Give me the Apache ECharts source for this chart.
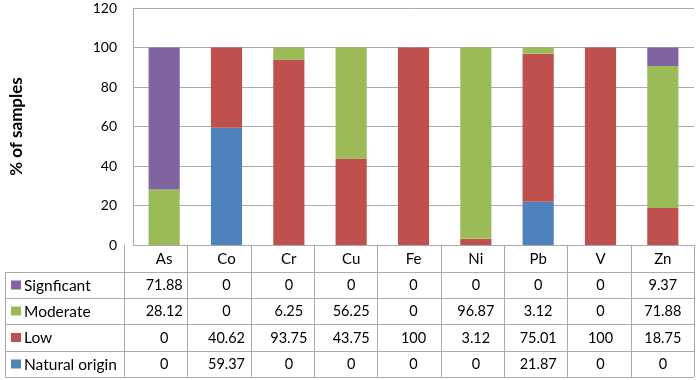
<!DOCTYPE html>
<html>
<head>
<meta charset="utf-8">
<script src="https://cdn.jsdelivr.net/npm/echarts@6/dist/echarts.min.js"></script>
<style>
  html, body { margin: 0; padding: 0; background: #fff; }
  #main { width: 699px; height: 380px; }
</style>
</head>
<body>
<div id="main"></div>
<script>
  // data
  const metals = ['As', 'Co', 'Cr', 'Cu', 'Fe', 'Ni', 'Pb', 'V', 'Zn'];
  const significant = [71.88, 0, 0, 0, 0, 0, 0, 0, 9.37];
  const moderate = [28.12, 0, 6.25, 56.25, 0, 96.87, 3.12, 0, 71.88];
  const low = [0, 40.62, 93.75, 43.75, 100, 3.12, 75.01, 100, 18.75];
  const naturalOrigin = [0, 59.37, 0, 0, 0, 0, 21.87, 0, 0];
  const yTicks = [0, 20, 40, 60, 80, 100, 120];

  const colors = {
    significant: '#8064A2',
    moderate: '#9BBB59',
    low: '#C0504D',
    natural: '#4F81BD'
  };

  // table rows, top to bottom as in the picture
  const tableRows = [
    { name: 'Signficant', values: significant, color: colors.significant },
    { name: 'Moderate', values: moderate, color: colors.moderate },
    { name: 'Low', values: low, color: colors.low },
    { name: 'Natural origin', values: naturalOrigin, color: colors.natural }
  ];

  const FONT = 'Lato, "Open Sans", sans-serif';
  const gridLeft = 124, gridRight = 5, gridTop = 8, gridBottom = 135;
  const lineColor = '#ABABAB';

  const chart = echarts.init(document.getElementById('main'));

  const barSeries = (name, data, color) => ({
    name: name,
    type: 'bar',
    stack: 'total',
    barWidth: '50%',
    data: data,
    itemStyle: { color: color },
    emphasis: { disabled: true }
  });

  const option = {
    animation: false,
    textStyle: { fontFamily: FONT },
    grid: { left: gridLeft, right: gridRight, top: gridTop, bottom: gridBottom },
    xAxis: {
      type: 'category',
      data: metals,
      axisLine: { lineStyle: { color: lineColor } },
      axisTick: { show: false },
      axisLabel: { color: '#000', fontSize: 15, margin: 7, fontFamily: FONT }
    },
    yAxis: {
      type: 'value',
      min: 0,
      max: 120,
      interval: 20,
      name: '% of samples',
      nameLocation: 'middle',
      nameGap: 108,
      nameTextStyle: { fontSize: 17, fontWeight: 'bold', color: '#000', fontFamily: FONT },
      axisLine: { show: true, lineStyle: { color: lineColor } },
      axisTick: { show: false },
      axisLabel: {
        color: '#000', fontSize: 14, margin: 16, fontFamily: FONT,
        formatter: v => yTicks.includes(v) ? String(v) : ''
      },
      splitLine: { lineStyle: { color: lineColor } }
    },
    series: [
      barSeries('Natural origin', naturalOrigin, colors.natural),
      barSeries('Low', low, colors.low),
      barSeries('Moderate', moderate, colors.moderate),
      barSeries('Signficant', significant, colors.significant)
    ]
  };
  chart.setOption(option);

  // data table below the plot
  const W = 699;
  const plotRight = W - gridRight;
  const axisY = 245;
  const rowLines = [272, 298, 324, 351, 377];
  const tableLeft = 5;
  const graphics = [];
  const line = (x1, y1, x2, y2) => ({
    type: 'line',
    shape: { x1: x1, y1: y1, x2: x2, y2: y2 },
    style: { stroke: lineColor, lineWidth: 1 },
    silent: true
  });

  rowLines.forEach(y => graphics.push(line(tableLeft, y + 0.5, plotRight, y + 0.5)));
  graphics.push(line(tableLeft + 0.5, rowLines[0], tableLeft + 0.5, rowLines[4]));
  graphics.push(line(plotRight + 0.5, axisY, plotRight + 0.5, rowLines[4]));
  const colW = (plotRight - gridLeft) / metals.length;
  for (let i = 0; i <= metals.length; i++) {
    const x = Math.round(gridLeft + i * colW) + 0.5;
    graphics.push(line(x, axisY, x, rowLines[4]));
  }

  tableRows.forEach((row, r) => {
    const yMid = (rowLines[r] + rowLines[r + 1]) / 2 + 0.5;
    graphics.push({
      type: 'rect',
      shape: { x: 11, y: yMid - 5, width: 10, height: 9 },
      style: { fill: row.color },
      silent: true
    });
    graphics.push({
      type: 'text',
      x: 24, y: yMid,
      style: {
        text: row.name, fill: '#000', font: '15.5px ' + FONT,
        textAlign: 'left', textVerticalAlign: 'middle'
      },
      silent: true
    });
    row.values.forEach((v, i) => {
      const cx = chart.convertToPixel({ xAxisIndex: 0 }, metals[i]);
      graphics.push({
        type: 'text',
        x: cx, y: yMid,
        style: {
          text: String(v), fill: '#000', font: '14.5px ' + FONT,
          textAlign: 'center', textVerticalAlign: 'middle'
        },
        silent: true
      });
    });
  });

  chart.setOption({ graphic: { elements: graphics } });
</script>
</body>
</html>
